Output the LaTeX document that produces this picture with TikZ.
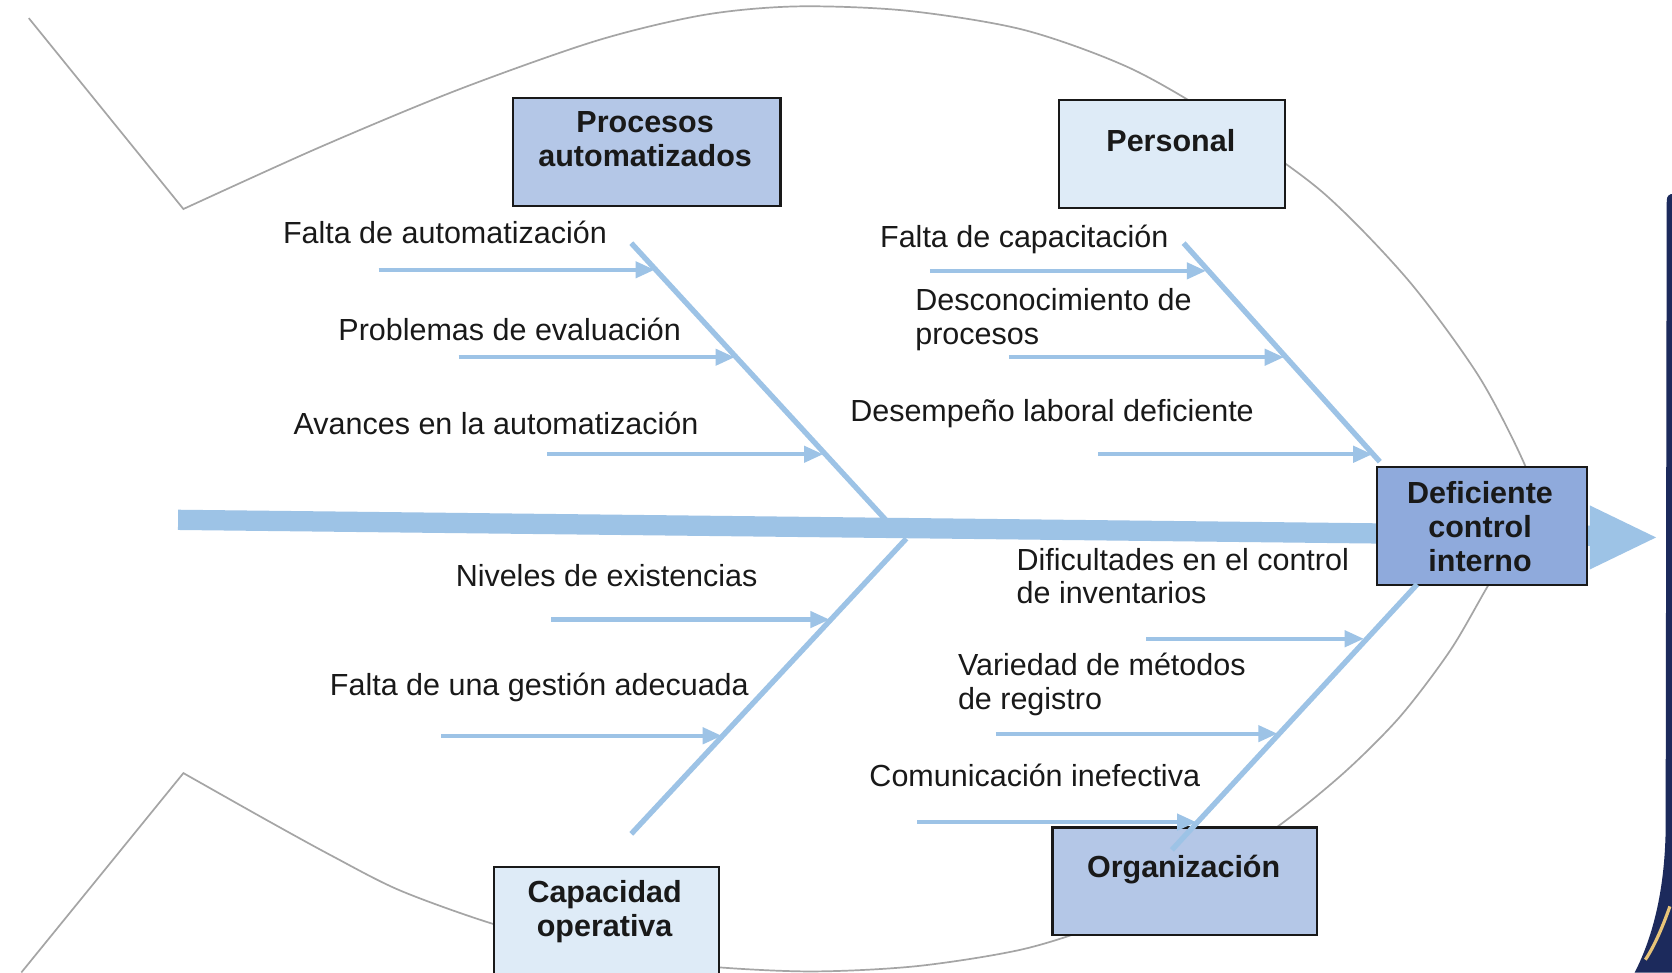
\documentclass[tikz,border=0pt]{standalone}
\usepackage{fontspec}
\setmainfont{Liberation Sans}
\usetikzlibrary{arrows.meta}
\definecolor{bone}{RGB}{157,195,230}
\definecolor{boxmid}{RGB}{180,199,231}
\definecolor{boxlight}{RGB}{222,235,247}
\definecolor{boxdark}{RGB}{143,170,220}
\definecolor{fishgray}{RGB}{165,165,165}
\definecolor{navy}{RGB}{28,42,92}
\definecolor{gold}{RGB}{232,196,120}
\definecolor{ink}{RGB}{25,25,25}
\tikzset{
  catbox/.style={draw=ink, line width=1pt, inner sep=0pt, anchor=north west},
  cattext/.style={font=\fontsize{14.3pt}{16pt}\selectfont\bfseries, align=center, anchor=base, inner sep=0pt, text=ink},
  causetext/.style={font=\fontsize{14.3pt}{15.7pt}\selectfont, align=left, anchor=base west, inner sep=0pt, text=ink},
  bonel/.style={draw=bone, line width=2.5pt},
  causearrow/.style={draw=bone, line width=2pt, -{Triangle[length=9pt,width=7.5pt]}},
  spinel/.style={draw=bone, line width=9.5pt},
  fishline/.style={draw=fishgray, line width=0.8pt},
}
\begin{document}
\begin{tikzpicture}[x=0.5pt,y=-0.5pt]
\useasboundingbox (0,0) rectangle (1568,912);
\fill[white] (0,0) rectangle (1568,912);

% fish outline
\draw[fishline] (27,17) -- plot[smooth,tension=0.5] coordinates {(172,196) (300,138) (430,84) (560,38) (660,14) (747,6) (850,10) (960,28) (1060,64) (1150,116) (1240,180) (1320,262) (1385,350) (1425,425) (1437,462) (1425,500) (1395,550) (1360,610) (1313,672) (1260,725) (1197,776) (1120,826) (1040,864) (960,890) (860,906) (760,911) (660,906) (560,893) (461,866) (375,835) (312,803) (250,769) (172,725)} -- (20,912);

% spine
\coordinate (sp0) at (167,487.5);
\coordinate (sp1) at (1491,502.5);
\draw[spinel] (sp0) -- (sp1);

% head box
\node[catbox, fill=boxdark, minimum width=98.5pt, minimum height=55.5pt] (dc) at (1290,437) {};
\node[cattext] (dct) at (1388,536) {Deficiente\\control\\interno};
\fill[bone] (1491,474) -- (1553,504) -- (1491,534) -- cycle;

% category boxes
\node[catbox, fill=boxmid, minimum width=125.5pt, minimum height=50.5pt] (pa) at (480,91) {};
\node[cattext] (pat) at (605,156) {Procesos\\automatizados};
\node[catbox, fill=boxlight, minimum width=106pt, minimum height=50.5pt] (pe) at (992,93) {};
\node[cattext] (pet) at (1098,142) {Personal};
\node[catbox, fill=boxlight, minimum width=105.5pt, minimum height=53pt] (co) at (462,812) {};
\node[cattext] (cot) at (567,878) {Capacidad\\operativa};
\node[catbox, fill=boxmid, minimum width=124pt, minimum height=50.5pt] (org) at (986,775) {};
\node[cattext] (orgt) at (1110,823) {Organización};

% bones
\coordinate (tlA) at (592,228); \coordinate (tlB) at (832,489);
\coordinate (trA) at (1110,228); \coordinate (trB) at (1294,433);
\coordinate (blA) at (850,505); \coordinate (blB) at (592,782);
\coordinate (brA) at (1329,548); \coordinate (brB) at (1099,797);
\draw[bonel] (tlA) -- (tlB);
\draw[bonel] (trA) -- (trB);
\draw[bonel] (blA) -- (blB);
\draw[bonel] (brA) -- (brB);

% cause arrows
\coordinate (a1s) at (355,253);  \coordinate (a1e) at (614,253);
\coordinate (a2s) at (430,335);  \coordinate (a2e) at (689,335);
\coordinate (a3s) at (513,426);  \coordinate (a3e) at (772,426);
\coordinate (b1s) at (872,254);  \coordinate (b1e) at (1131,254);
\coordinate (b2s) at (946,335);  \coordinate (b2e) at (1204,335);
\coordinate (b3s) at (1030,426); \coordinate (b3e) at (1287,426);
\coordinate (c1s) at (517,581);  \coordinate (c1e) at (778,581);
\coordinate (c2s) at (414,690);  \coordinate (c2e) at (677,690);
\coordinate (d1s) at (1075,599); \coordinate (d1e) at (1279,599);
\coordinate (d2s) at (934,688);  \coordinate (d2e) at (1198,688);
\coordinate (d3s) at (860,771);  \coordinate (d3e) at (1122,771);
\foreach \p in {a1,a2,a3,b1,b2,b3,c1,c2,d1,d2,d3}
  \draw[causearrow] (\p s) -- (\p e);

% cause labels
\node[causetext] (l1) at (265,228) {Falta de automatización};
\node[causetext] (l2) at (317,319) {Problemas de evaluación};
\node[causetext] (l3) at (275,407) {Avances en la automatización};
\node[causetext] (l4) at (825,232) {Falta de capacitación};
\node[causetext] (l5) at (858,323) {Desconocimiento de\\procesos};
\node[causetext] (l6) at (797,395) {Desempeño laboral deficiente};
\node[causetext] (l7) at (427,550) {Niveles de existencias};
\node[causetext] (l8) at (309,652) {Falta de una gestión adecuada};
\node[causetext] (l9) at (953,566) {Dificultades en el control\\de inventarios};
\node[causetext] (l10) at (898,665) {Variedad de métodos\\de registro};
\node[causetext] (l11) at (815,738) {Comunicación inefectiva};

% right frame edge
\fill[navy] (1568,182) -- (1567,182) .. controls (1563,184) .. (1563,196) -- (1562,780) .. controls (1561,830) and (1552,875) .. (1533,912) -- (1568,912) -- cycle;
\draw[gold, line width=1.5pt] (1566,850) .. controls (1559,870) and (1551,888) .. (1543,900);
\end{tikzpicture}
\end{document}
